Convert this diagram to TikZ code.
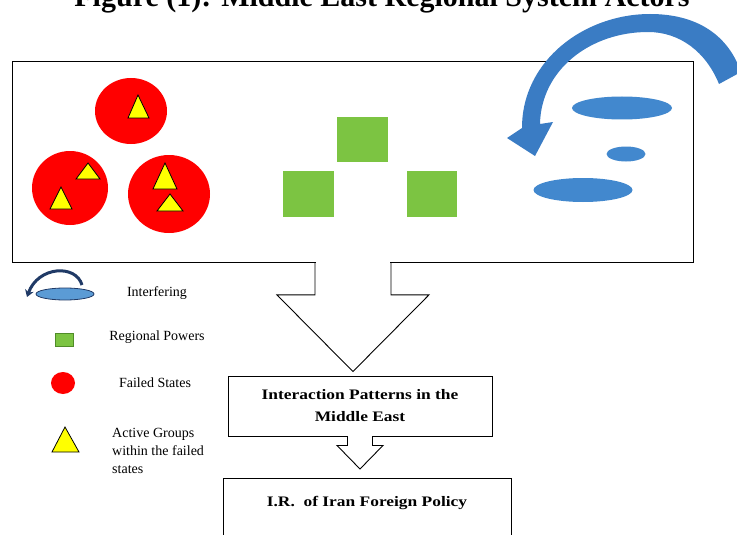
\documentclass[tikz,border=0pt]{standalone}
\usepackage{fontspec}
\setmainfont{Liberation Serif}
\newfontfamily\boxfont{Liberation Serif}[FakeStretch=1.2]
\usetikzlibrary{calc,arrows.meta}
\definecolor{redstate}{RGB}{255,0,0}
\definecolor{yellowgrp}{RGB}{255,255,0}
\definecolor{greenpow}{RGB}{124,196,66}
\definecolor{greenedge}{RGB}{80,140,40}
\definecolor{blueell}{RGB}{66,136,206}
\definecolor{bluearrow}{RGB}{58,124,196}
\definecolor{navy}{RGB}{32,58,102}
\definecolor{lightblue}{RGB}{91,155,213}
\begin{document}
\begin{tikzpicture}[x=1pt,y=-1pt,
  outline/.style={draw=black,line width=0.9pt},
  framebox/.style={outline,minimum width=681pt,minimum height=201pt,anchor=north west,inner sep=0pt},
  flowbox/.style={outline,fill=white,font=\boxfont\bfseries\fontsize{14.5}{22}\selectfont,align=center},
  legtext/.style={font=\fontsize{14}{18}\selectfont,inner sep=0pt},
  tri/.style={fill=yellowgrp,draw=black,line width=0.8pt,line join=miter},
  state/.style={fill=redstate},
  power/.style={fill=greenpow},
  interf/.style={fill=blueell}]
\useasboundingbox (0,0) rectangle (737,535);
\fill[white] (0,0) rectangle (737,535);

% title (cut at top in the reference)
\node[font=\bfseries\fontsize{30}{36}\selectfont,anchor=base,inner sep=0pt] (title) at (382,7) {Figure (1): Middle East Regional System Actors};

% main frame
\node[framebox] (frame) at (12,61) {};

% failed states
\fill[state] (131,111) ellipse [x radius=36, y radius=33];
\fill[state] (70,188) ellipse [x radius=38, y radius=37];
\fill[state] (169,194) ellipse [x radius=41, y radius=39];
\draw[tri] (128,118) -- (138,95) -- (149,118) -- cycle;
\draw[tri] (76,179) -- (88,163) -- (100,179) -- cycle;
\draw[tri] (50,209) -- (61,187) -- (72,209) -- cycle;
\draw[tri] (153,189) -- (165,163) -- (177,189) -- cycle;
\draw[tri] (157,211) -- (170,194) -- (183,211) -- cycle;

% regional powers
\fill[power] (337,117) rectangle (388,162);
\fill[power] (283,171) rectangle (334,217);
\fill[power] (407,171) rectangle (457,217);

% interfering powers
\fill[interf] (622,108) ellipse [x radius=50, y radius=11.5];
\fill[interf] (626,154) ellipse [x radius=19.5, y radius=7.5];
\fill[interf] (583,190) ellipse [x radius=49.5, y radius=12];
\fill[bluearrow] (741,72) .. controls (728,35) and (697,14) .. (650,14)
  .. controls (585,14) and (522,60) .. (522,128) -- (507,138) -- (535,156) -- (553,122) -- (540,124)
  .. controls (541,70) and (590,32) .. (648,32)
  .. controls (680,32) and (706,52) .. (719,84) -- cycle;

% flow boxes
\node[flowbox,minimum width=264pt,minimum height=60pt] (box2) at (360,406) {Interaction Patterns in the\\Middle East};
\node[flowbox,minimum width=288pt,anchor=north,inner ysep=0pt,text height=28pt,text depth=40pt] (box3) at (367,478) {I.R.\ \ of Iran Foreign Policy};

% block arrow frame -> box2
\coordinate (t1) at ([yshift=4pt]box2.north -| frame.south);
\fill[white] ([xshift=-37pt,yshift=1.5pt]frame.south) rectangle ([xshift=37pt,yshift=-1.5pt]frame.south);
\draw[outline,line join=miter] ($(frame.south)+(-38,0)$) -- ++(0,32) -- ++(-38,0) -- (t1)
  -- ($(frame.south)+(76,32)$) -- ($(frame.south)+(38,32)$) -- ($(frame.south)+(38,0)$);

% block arrow box2 -> box3
\coordinate (t2) at ([yshift=9pt]box3.north -| box2.south);
\fill[white] ([xshift=-12pt,yshift=1.5pt]box2.south) rectangle ([xshift=12pt,yshift=-1.5pt]box2.south);
\draw[outline,line join=miter] ($(box2.south)+(-12.5,0)$) -- ++(0,9) -- ++(-10.5,0) -- (t2)
  -- ($(box2.south)+(23,9)$) -- ($(box2.south)+(12.5,9)$) -- ($(box2.south)+(12.5,0)$);

% legend
\fill[lightblue,draw=navy,line width=0.8pt] (65,294) ellipse [x radius=29, y radius=6];
\draw[navy,line width=3pt,-{Stealth[length=7pt,width=9pt]}] (82,285) .. controls (76,264) and (38,266) .. (27,297);
\node[legtext] (lint) at (157,293) {Interfering};
\filldraw[fill=greenpow,draw=greenedge,line width=0.8pt] (55,333) rectangle (73,346);
\node[legtext] (lrp) at (157,337) {Regional Powers};
\fill[redstate] (63,383) ellipse [x radius=12, y radius=11];
\node[legtext] (lfs) at (155,383) {Failed States};
\draw[tri] (52,452) -- (65,427) -- (79,452) -- cycle;
\node[legtext,align=left,anchor=west] (lag) at (112,451) {Active Groups\\within the failed\\states};
\end{tikzpicture}
\end{document}
